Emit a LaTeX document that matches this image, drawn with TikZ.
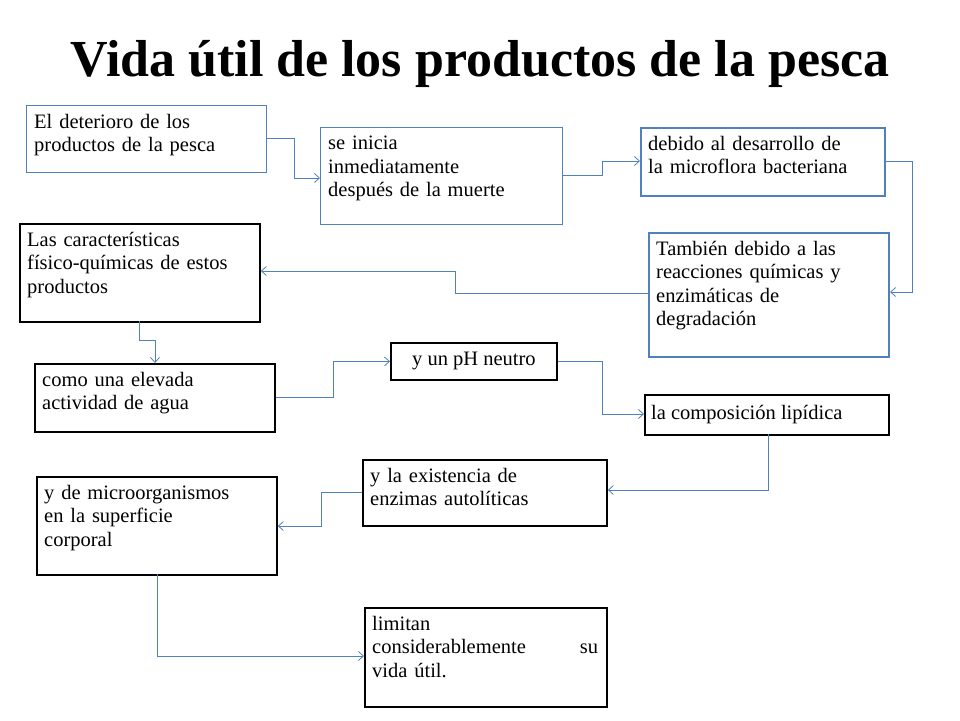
\documentclass[tikz,border=0pt]{standalone}
\usepackage{fontspec}
\setmainfont{Liberation Serif}
\usetikzlibrary{arrows.meta}
\definecolor{lb}{RGB}{79,129,189}
\begin{document}
\begin{tikzpicture}[x=1pt,y=-1pt,
  bx/.style={anchor=north west,draw=black,line width=1.8pt,inner sep=0pt},
  tx/.style={font=\fontsize{20.5}{23.5}\selectfont},
  thinb/.style={draw=lb,line width=0.8pt},
  thickb/.style={draw=lb,line width=2pt},
  conn/.style={draw=lb,line width=0.8pt,-{Straight Barb[length=5pt,width=9pt]}}]
\useasboundingbox (0,0) rectangle (960,720);
\node[font=\fontsize{52}{60}\selectfont\bfseries] (title) at (480,64) {Vida útil de los productos de la pesca};
\newcommand{\mybox}[7]{\node[bx,#6,minimum width=#3pt,minimum height=#4pt] (#5) at (#1,#2) {};
 \node[tx,anchor=north west,align=left,text width=#3pt-10pt,inner sep=0pt] at ([xshift=8pt,yshift=-9pt]#5.north west) {#7};}
\mybox{26}{105}{240}{67}{a}{thinb}{El deterioro de los\\productos de la pesca}
\mybox{320}{127}{242}{97}{b}{thinb}{se inicia\\inmediatamente\\después de la muerte}
\mybox{640}{127}{244}{68}{c}{thickb}{debido al desarrollo de\\la microflora bacteriana}
\mybox{648}{232}{240}{124}{d}{thickb}{También debido a las\\reacciones químicas y\\enzimáticas de\\degradación}
\mybox{19}{223}{240}{98}{e}{}{Las características\\físico-químicas de estos\\productos}
\mybox{34}{363}{240}{68}{f}{}{como una elevada\\actividad de agua}
\node[bx,minimum width=166pt,minimum height=37pt] (g) at (390,342) {};
\node[tx] at (g.center) {y un pH neutro};
\node[bx,minimum width=244pt,minimum height=40pt] (h) at (644,394) {};
\node[tx,anchor=west,inner sep=0pt] at ([xshift=7pt]h.west) {la composición lipídica};
\mybox{362}{459}{244}{66}{i}{}{y la existencia de\\enzimas autolíticas}
\mybox{36}{476}{240}{98}{j}{}{y de microorganismos\\en la superficie\\corporal}
\node[bx,minimum width=242pt,minimum height=99pt] (k) at (364,607) {};
\node[tx,anchor=north west,align=left,text width=226pt,inner sep=0pt] at ([xshift=8pt,yshift=-9pt]k.north west) {limitan\\considerablemente\hfill su\\vida útil.};
\draw[conn] (a.east |- 0,138) -- (294,138) |- (b.west |- 0,178);
\draw[conn] (b.east |- 0,175) -- (602,175) |- (c.west |- 0,161);
\draw[conn] (c.east |- 0,161) -- (912,161) |- (d.east |- 0,292);
\draw[conn] (d.west |- 0,293) -- (455,293) |- (e.east |- 0,271);
\draw[conn] (139,321) -- (139,340) -| (155,363);
\draw[conn] (f.east |- 0,397) -- (333,397) |- (g.west);
\draw[conn] (g.east) -| (602,414) -- (h.west |- 0,414);
\draw[conn] (768,434) -- (768,490) -- (i.east |- 0,490);
\draw[conn] (i.west |- 0,492) -- (321,492) |- (j.east |- 0,526);
\draw[conn] (157,574) |- (k.west |- 0,656);
\end{tikzpicture}
\end{document}
